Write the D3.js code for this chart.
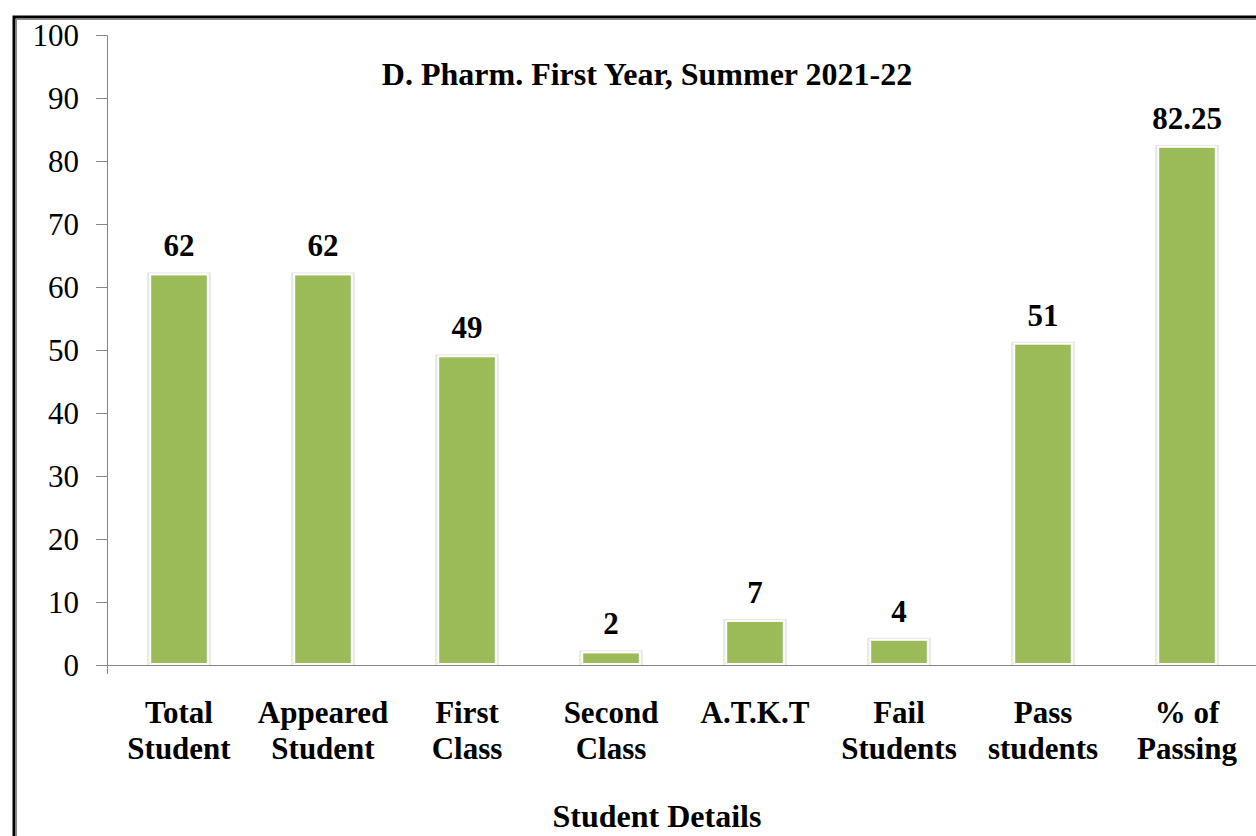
<!DOCTYPE html>
<html>
<head>
<meta charset="utf-8">
<script src="https://cdn.jsdelivr.net/npm/d3@7"></script>
<style>
  body { margin: 0; background: #fff; }
  svg { display: block; }
</style>
</head>
<body>
<div id="chart"></div>
<script>
// chart data
const categories = [
    ["Total", "Student"],
    ["Appeared", "Student"],
    ["First", "Class"],
    ["Second", "Class"],
    ["A.T.K.T"],
    ["Fail", "Students"],
    ["Pass", "students"],
    ["% of", "Passing"]
];
const values = [62, 62, 49, 2, 7, 4, 51, 82.25];
const yTicks = [0, 10, 20, 30, 40, 50, 60, 70, 80, 90, 100];

const width = 1256, height = 836;
const margin = {top: 35, right: -3, bottom: 171, left: 107};
const innerW = width - margin.left - margin.right;
const innerH = height - margin.top - margin.bottom;
const serif = "'Liberation Serif', 'Times New Roman', serif";

const svg = d3.select("#chart").append("svg")
    .attr("width", width)
    .attr("height", height);

// outer frame
svg.append("rect")
    .attr("x", 14).attr("y", 17)
    .attr("width", width + 20).attr("height", height + 20)
    .attr("fill", "none")
    .attr("stroke", "#000")
    .attr("stroke-width", 3);
svg.append("rect")
    .attr("x", 16.5).attr("y", 19.5)
    .attr("width", width + 20).attr("height", height + 20)
    .attr("fill", "none")
    .attr("stroke", "#888")
    .attr("stroke-width", 1);

const g = svg.append("g")
    .attr("transform", "translate(" + margin.left + "," + margin.top + ")");

const x = d3.scaleBand()
    .domain(categories.map((d, i) => i))
    .range([0, innerW])
    .paddingInner(0.6)
    .paddingOuter(0.3);

const y = d3.scaleLinear()
    .domain([0, 100])
    .range([innerH, 0]);

// y axis
const yAxis = d3.axisLeft(y).tickValues(yTicks).tickSize(11).tickPadding(17);
const yg = g.append("g").call(yAxis);
yg.select(".domain").attr("stroke", "#868686").attr("d", "M-11,0.5H0.5V" + (innerH + 9));
yg.selectAll(".tick line").attr("stroke", "#868686");
yg.selectAll(".tick text")
    .attr("font-family", serif)
    .attr("font-size", 31)
    .attr("dy", "0.34em")
    .attr("fill", "#000");
yg.select(".tick:first-of-type line").remove();

// x axis line
g.append("line")
    .attr("x1", -11).attr("x2", innerW + 10)
    .attr("y1", innerH + 0.5).attr("y2", innerH + 0.5)
    .attr("stroke", "#868686");

// bar shadow
g.selectAll(".shadow")
    .data(values)
    .enter().append("rect")
    .attr("class", "shadow")
    .attr("x", (d, i) => x(i) - 3)
    .attr("y", d => y(d) - 2)
    .attr("width", x.bandwidth() + 6)
    .attr("height", d => innerH - y(d) + 2)
    .attr("fill", "#e6e6e6");

// bars
g.selectAll(".bar")
    .data(values)
    .enter().append("rect")
    .attr("class", "bar")
    .attr("x", (d, i) => x(i))
    .attr("y", d => y(d))
    .attr("width", x.bandwidth())
    .attr("height", d => innerH - y(d) - 1)
    .attr("fill", "#9BBB59")
    .attr("stroke", "#fff")
    .attr("stroke-width", 2);

// value labels
g.selectAll(".val")
    .data(values)
    .enter().append("text")
    .attr("class", "val")
    .attr("x", (d, i) => x(i) + x.bandwidth() / 2)
    .attr("y", d => y(d) - 18)
    .attr("text-anchor", "middle")
    .attr("font-family", serif)
    .attr("font-weight", "bold")
    .attr("font-size", 31)
    .text(d => d);

// category labels
const cat = g.selectAll(".cat")
    .data(categories)
    .enter().append("text")
    .attr("class", "cat")
    .attr("text-anchor", "middle")
    .attr("font-family", serif)
    .attr("font-weight", "bold")
    .attr("font-size", 31)
    .attr("transform", (d, i) => "translate(" + (x(i) + x.bandwidth() / 2) + "," + (innerH + 58) + ")");
cat.selectAll("tspan")
    .data(d => d)
    .enter().append("tspan")
    .attr("x", 0)
    .attr("dy", (d, i) => i === 0 ? 0 : 36)
    .text(d => d);

// title
svg.append("text")
    .attr("x", 647).attr("y", 85)
    .attr("text-anchor", "middle")
    .attr("font-family", serif)
    .attr("font-weight", "bold")
    .attr("font-size", 32)
    .text("D. Pharm. First Year, Summer 2021-22");

// x axis title
svg.append("text")
    .attr("x", 657).attr("y", 827)
    .attr("text-anchor", "middle")
    .attr("font-family", serif)
    .attr("font-weight", "bold")
    .attr("font-size", 32)
    .text("Student Details");
</script>
</body>
</html>
